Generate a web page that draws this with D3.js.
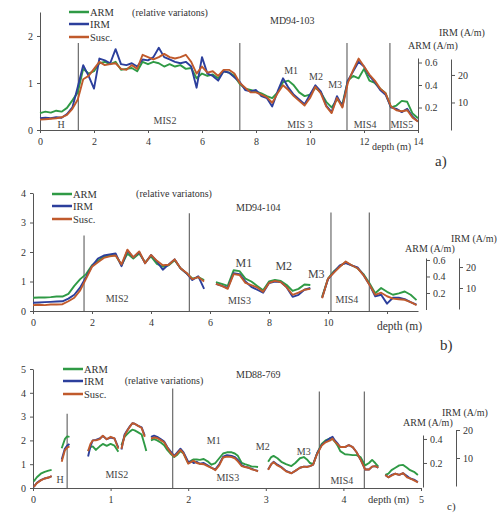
<!DOCTYPE html>
<html>
<head>
<meta charset="utf-8">
<script src="https://cdn.jsdelivr.net/npm/d3@7"></script>
<style>
body { margin: 0; background: #fff; }
text { font-family: "Liberation Serif", "Times New Roman", Times, serif; fill: #333; }
.axis path, .axis line { stroke: #555; }
.axis text { font-size: 10px; fill: #333; font-family: "Liberation Serif", "Times New Roman", Times, serif; }
</style>
</head>
<body>
<svg id="chart" width="498" height="513"></svg>
<script>
var seriesNames = ["ARM", "IRM", "Susc."];
var seriesColors = ["#2f9a45", "#2c3f9c", "#c05a2c"];

// core MD94-103
var depthA = [0,0.2,0.4,0.6,0.8,1,1.2,1.4,1.6,1.8,2,2.2,2.4,2.6,2.8,3,3.2,3.4,3.6,3.8,4,4.2,4.4,4.6,4.8,5,5.2,5.4,5.6,5.8,6,6.2,6.4,6.6,6.8,7,7.2,7.4,7.6,7.8,8,8.2,8.4,8.6,8.8,9,9.2,9.4,9.6,9.8,10,10.2,10.4,10.6,10.8,11,11.2,11.4,11.6,11.8,12,12.2,12.4,12.6,12.8,13,13.2,13.4,13.6,13.8,14];
var armA = [0.36,0.39,0.37,0.41,0.39,0.47,0.63,0.80,1.30,1.20,
  1.25,1.42,1.45,1.40,1.45,1.28,1.30,1.32,1.25,1.45,
  1.40,1.45,1.42,1.35,1.40,1.35,1.38,1.30,1.32,1.10,
  1.20,1.15,1.18,1.10,1.25,1.22,1.15,0.98,0.88,0.85,
  0.82,0.78,0.72,0.68,0.80,1.02,1.05,0.95,0.80,0.72,
  0.75,0.90,0.80,0.60,0.48,0.65,0.55,1.05,1.15,1.10,
  1.30,1.05,1.00,0.88,0.78,0.48,0.52,0.62,0.60,0.35,0.25];
var irmA = [0.25,0.26,0.25,0.27,0.26,0.34,0.48,0.92,1.38,1.15,
  0.88,1.52,1.48,1.42,1.72,1.40,1.38,1.42,1.35,1.50,
  1.48,1.55,1.75,1.55,1.50,1.45,1.42,1.45,1.35,0.90,
  1.55,1.20,1.15,1.05,1.25,1.22,1.12,1.02,0.85,0.82,
  0.85,0.72,0.68,0.50,0.82,1.10,0.90,0.75,0.65,0.55,
  0.75,0.95,0.82,0.52,0.38,0.72,0.50,1.05,1.25,1.45,
  1.35,1.15,1.02,0.85,0.75,0.48,0.45,0.38,0.45,0.28,0.18];
var suscA = [0.22,0.23,0.24,0.25,0.27,0.32,0.45,0.65,1.08,1.15,
  1.30,1.45,1.38,1.40,1.42,1.30,1.28,1.38,1.30,1.60,
  1.55,1.50,1.55,1.62,1.55,1.52,1.55,1.60,1.45,1.20,
  1.35,1.22,1.25,1.15,1.28,1.28,1.20,1.00,0.90,0.80,
  0.80,0.75,0.70,0.58,0.78,0.95,0.85,0.72,0.62,0.52,
  0.68,0.92,0.78,0.50,0.36,0.68,0.48,1.00,1.28,1.52,
  1.35,1.18,1.05,0.88,0.78,0.50,0.42,0.40,0.42,0.26,0.18];

// core MD94-104
var depthB = [0,0.2,0.4,0.6,0.8,1,1.2,1.4,1.6,1.8,2,2.2,2.4,2.6,2.8,3,3.2,3.4,3.6,3.8,4,4.2,4.4,4.6,4.8,5,5.2,5.4,5.6,5.8,6,6.2,6.4,6.6,6.8,7,7.2,7.4,7.6,7.8,8,8.2,8.4,8.6,8.8,9,9.2,9.4,9.6,9.8,10,10.2,10.4,10.6,10.8,11,11.2,11.4,11.6,11.8,12,12.2,12.4,12.6,12.8,13];
var armB = [0.45,0.46,0.46,0.47,0.49,0.49,0.58,0.85,1.08,1.25,
  1.55,1.70,1.85,1.88,1.90,1.55,1.95,1.78,1.95,1.65,
  1.85,1.60,1.50,1.55,1.72,1.45,1.28,1.10,1.15,1.05,
  null,0.98,0.92,0.85,1.38,1.35,1.10,1.00,0.85,0.70,
  1.00,1.05,1.02,0.88,0.68,0.75,0.90,0.88,null,0.48,
  1.10,1.35,1.52,1.65,1.55,1.45,1.25,0.95,0.60,0.78,
  0.65,0.55,0.60,0.66,0.55,0.37];
var irmB = [0.28,0.29,0.30,0.31,0.32,0.33,0.42,0.55,0.80,1.15,
  1.52,1.78,1.88,1.92,1.95,1.52,2.05,1.82,2.00,1.62,
  1.90,1.68,1.40,1.58,1.75,1.45,1.28,1.05,1.18,0.75,
  null,0.92,0.85,0.78,1.28,1.25,1.00,0.82,0.72,0.62,
  0.95,1.00,0.98,0.80,0.48,0.55,0.72,0.78,null,0.45,
  1.08,1.32,1.55,1.62,1.55,1.48,1.22,0.90,0.50,0.55,
  0.25,0.45,0.45,0.40,0.30,0.22];
var suscB = [0.20,0.21,0.20,0.22,0.22,0.23,0.33,0.45,0.70,1.10,
  1.50,1.65,1.80,1.85,1.88,1.58,2.08,1.82,2.02,1.62,
  1.90,1.70,1.55,1.57,1.75,1.45,1.30,1.08,1.15,1.00,
  null,0.92,0.85,0.75,1.25,1.22,0.95,0.88,0.80,0.65,
  0.95,1.02,0.98,0.80,0.55,0.62,0.72,0.75,null,0.43,
  1.10,1.30,1.50,1.68,1.55,1.45,1.22,0.90,0.55,0.62,
  0.50,0.42,0.40,0.38,0.30,0.20];

// core MD88-769
var depthC = [0.01,0.05,0.10,0.15,0.20,0.24,0.30,0.37,0.41,0.44,0.47,0.60,
  0.71,0.74,0.77,0.81,0.86,0.90,0.95,1.00,1.05,1.10,1.12,
  1.14,1.18,1.21,1.25,1.28,1.31,1.35,1.40,1.44,1.46,1.49,
  1.52,1.56,1.60,1.65,1.69,1.73,1.77,1.82,1.86,1.90,1.94,2.00,2.04,2.07,2.11,2.15,2.20,2.25,2.30,2.35,2.40,2.45,2.50,2.56,2.60,2.64,2.69,2.73,2.78,2.82,2.86,2.90,2.96,
  3.03,3.07,3.10,3.15,3.20,3.26,3.33,3.38,3.44,3.49,3.53,3.57,3.61,3.66,3.72,3.77,3.83,3.86,3.89,3.93,3.96,4.02,4.07,4.12,4.17,4.22,4.28,4.33,4.37,4.41,4.45,4.50,
  4.54,4.58,4.62,4.67,4.72,4.77,4.82,4.86,4.91,4.96];
var armC = [0.28,0.45,0.60,0.68,0.73,0.76,null,1.67,2.05,2.17,2.15,null,
  1.55,1.72,1.75,1.60,1.75,1.85,1.77,1.85,1.78,1.52,null,
  1.80,2.15,2.25,2.38,2.45,2.42,2.35,2.25,1.80,1.55,null,
  2.00,2.05,2.00,1.90,1.80,1.60,1.45,1.30,1.40,1.55,1.45,1.05,1.15,1.20,1.20,1.18,1.22,1.12,0.98,1.05,1.25,1.45,1.50,1.50,1.45,1.35,1.05,1.00,0.95,0.90,0.90,0.88,null,
  1.10,1.30,1.35,1.25,1.10,1.00,0.92,1.05,1.25,1.30,1.20,1.05,1.00,1.45,1.85,2.00,2.08,2.05,1.95,1.75,1.55,1.42,1.40,1.38,1.38,1.30,0.95,1.05,1.18,1.05,0.90,null,
  0.55,0.60,0.75,0.85,0.95,0.97,0.85,0.75,0.68,0.55];
var irmC = [0.05,0.22,0.33,0.40,0.44,0.50,null,1.20,1.65,1.78,1.85,null,
  1.32,1.75,2.00,2.02,2.08,2.18,2.05,2.12,2.08,1.70,null,
  1.62,2.25,2.40,2.60,2.72,2.70,2.62,2.55,2.20,null,null,
  2.15,2.20,2.15,2.05,1.95,1.72,1.55,1.35,1.50,1.65,1.50,1.10,1.12,1.05,1.10,1.02,1.05,0.95,0.85,0.78,1.00,1.32,1.38,1.35,1.30,1.18,0.95,0.90,0.85,0.80,0.75,0.72,null,
  0.78,1.00,1.10,0.98,0.88,0.72,0.62,0.72,0.85,0.90,0.90,0.92,0.98,1.45,1.80,1.95,2.10,2.15,2.00,1.85,1.72,1.72,1.80,1.72,1.50,1.20,0.78,0.78,0.90,0.92,0.85,null,
  0.55,0.45,0.55,0.60,0.55,0.62,0.50,0.40,0.35,0.25];
var suscC = [0.05,0.20,0.32,0.40,0.44,0.50,null,1.10,1.58,1.70,1.75,null,
  1.55,1.85,2.00,2.00,2.05,2.20,2.05,2.15,2.08,1.65,null,
  1.65,2.20,2.38,2.58,2.72,2.70,2.62,2.52,2.15,null,null,
  2.08,2.12,2.10,2.00,1.92,1.70,1.50,1.32,1.45,1.60,1.45,1.02,1.10,1.15,1.05,1.02,1.00,0.92,0.85,0.75,0.95,1.28,1.32,1.30,1.25,1.12,0.92,0.88,0.85,0.78,0.75,0.70,null,
  0.76,1.00,1.08,0.95,0.86,0.70,0.62,0.72,0.85,0.90,0.88,0.92,0.98,1.42,1.78,1.92,2.00,2.08,1.95,1.82,1.72,1.72,1.80,1.72,1.50,1.20,0.78,0.78,0.90,0.92,0.85,null,
  0.55,0.45,0.52,0.60,0.55,0.62,0.45,0.40,0.32,0.24];

// stage boundaries (depth) and their top (value units)
var boundsA = [1.42, 7.4, 11.37, 12.96], boundTopsA = [1.85, 1.85, 1.85, 1.85];
var boundsB = [1.73, 5.3, 10.1, 11.4], boundTopsB = [2.56, 3.31, 3.34, 3.34];
var boundsC = [0.44, 1.8, 3.69, 4.27], boundTopsC = [3.12, 4.18, 4.05, 4.05];

var stageTextA = ["H", "MIS2", "MIS 3", "MIS4", "MIS5", "M1", "M2", "M3"];
var stageDepthA = [0.78, 4.63, 9.63, 12.04, 13.4, 9.3, 10.22, 10.93];
var stageValA = [0.05, 0.12, 0.04, 0.04, 0.04, 1.19, 1.06, 0.89];
var stageTextB = ["MIS2", "MIS3", "MIS4", "M1", "M2", "M3"];
var stageDepthB = [2.85, 7.0, 10.64, 7.15, 8.5, 9.6];
var stageValB = [0.31, 0.24, 0.27, 1.5, 1.4, 1.13];
var stageTextC = ["H", "MIS2", "M1", "MIS3", "M2", "M3", "MIS4"];
var stageDepthC = [0.35, 1.08, 2.33, 2.51, 2.96, 3.49, 3.98];
var stageValC = [0.21, 0.42, 1.86, 0.3, 1.6, 1.39, 0.17];

var svg = d3.select("#chart");

function drawPanel(p) {
  var g = svg.append("g");
  var x = d3.scaleLinear().domain([0, p.xMax]).range([p.left, p.right]);
  var y = d3.scaleLinear().domain([0, p.yMax]).range([p.base, p.top]);

  g.append("g").attr("class", "axis")
    .attr("transform", "translate(0," + p.base + ")")
    .call(d3.axisBottom(x).tickValues(p.xTicks).tickSize(3).tickSizeOuter(0).tickPadding(5)
      .tickFormat(function(d, i) { return p.xLabels[i]; }))
    .attr("font-family", null);
  g.append("g").attr("class", "axis")
    .attr("transform", "translate(" + p.left + ",0)")
    .call(d3.axisLeft(y).tickValues(p.yTicks).tickSize(3).tickSizeOuter(0).tickPadding(4)
      .tickFormat(d3.format("d")))
    .attr("font-family", null);

  // stage boundaries
  g.selectAll(".bound").data(p.bounds).enter().append("line")
    .attr("x1", function(d) { return x(d); }).attr("x2", function(d) { return x(d); })
    .attr("y1", p.base).attr("y2", function(d, i) { return y(p.boundTops[i]); })
    .attr("stroke", "#6a6a6a").attr("stroke-width", 1.2);

  var series = [p.arm, p.irm, p.susc];
  series.forEach(function(vals, si) {
    var line = d3.line()
      .defined(function(d, i) { return vals[i] != null; })
      .x(function(d, i) { return x(p.depth[i]); })
      .y(function(d, i) { return y(vals[i]); });
    g.append("path").datum(vals)
      .attr("d", line)
      .attr("fill", "none")
      .attr("stroke", seriesColors[si])
      .attr("stroke-width", 1.9)
      .attr("stroke-linejoin", "round");
  });

  // stage labels
  p.stageText.forEach(function(t, i) {
    g.append("text")
      .attr("x", x(p.stageDepth[i])).attr("y", y(p.stageVal[i]))
      .attr("text-anchor", "middle")
      .style("font-size", (t.charAt(0) == "M" && t.length == 2 ? p.mSize : 10) + "px")
      .style("fill", "#444")
      .text(t);
  });

  // legend
  seriesNames.forEach(function(n, i) {
    var ly = p.legendY[i];
    g.append("line").attr("x1", p.legendX).attr("x2", p.legendX + 20)
      .attr("y1", ly).attr("y2", ly)
      .attr("stroke", seriesColors[i]).attr("stroke-width", 2.5);
    g.append("text").attr("x", p.legendX + 21).attr("y", ly + 3.5)
      .style("font-size", "10.5px").text(n);
  });

  g.append("text").attr("x", p.noteX).attr("y", p.noteY).attr("text-anchor", "middle")
    .style("font-size", "10px").text(p.note);
  g.append("text").attr("x", p.coreX).attr("y", p.coreY)
    .style("font-size", "10px").text(p.core);

  // magnetic scales on the right
  var armScale = d3.scaleLinear().domain([0, p.armMax]).range([p.armBase, p.armTop]);
  var irmScale = d3.scaleLinear().domain([0, p.irmMax]).range([p.irmBase, p.irmTop]);
  g.append("g").attr("class", "axis")
    .attr("transform", "translate(" + p.armX + ",0)")
    .call(d3.axisRight(armScale).tickValues(p.armTicks).tickSize(4).tickSizeOuter(0).tickPadding(3)
      .tickFormat(d3.format(".1f")))
    .attr("font-family", null);
  g.append("g").attr("class", "axis")
    .attr("transform", "translate(" + p.irmX + ",0)")
    .call(d3.axisRight(irmScale).tickValues(p.irmTicks).tickSize(4).tickSizeOuter(0).tickPadding(3)
      .tickFormat(d3.format("d")))
    .attr("font-family", null);
  g.append("text").attr("x", p.armLabX).attr("y", p.armLabY)
    .style("font-size", "10px").text("ARM (A/m)");
  g.append("text").attr("x", p.irmLabX).attr("y", p.irmLabY)
    .style("font-size", "10px").text("IRM (A/m)");
  g.append("text").attr("x", p.depthX).attr("y", p.depthY)
    .style("font-size", p.depthSize + "px").text("depth (m)");
  g.append("text").attr("x", p.tagX).attr("y", p.tagY)
    .style("font-size", p.tagSize + "px").text(p.tag);
}

drawPanel({
  depth: depthA, arm: armA, irm: irmA, susc: suscA,
  left: 40, right: 418, base: 130, top: 12, xMax: 14, yMax: 2.51,
  xTicks: [0, 2, 4, 6, 8, 10, 12, 14], xLabels: ["0", "2", "4", "6", "8", "10", "12", "14"],
  yTicks: [0, 1, 2],
  bounds: boundsA, boundTops: boundTopsA,
  stageText: stageTextA, stageDepth: stageDepthA, stageVal: stageValA, mSize: 10,
  legendX: 69, legendY: [12, 24, 37],
  note: "(relative variatons)", noteX: 170, noteY: 16,
  core: "MD94-103", coreX: 270, coreY: 24,
  armX: 418, armMax: 0.64, armBase: 130, armTop: 58, armTicks: [0.2, 0.4, 0.6],
  irmX: 451, irmMax: 25.8, irmBase: 130, irmTop: 59, irmTicks: [10, 20],
  armLabX: 408, armLabY: 48.5, irmLabX: 439, irmLabY: 35.5,
  depthX: 372, depthY: 149.5, depthSize: 10,
  tag: "a)", tagX: 435, tagY: 166, tagSize: 15
});

drawPanel({
  depth: depthB, arm: armB, irm: irmB, susc: suscB,
  left: 33, right: 418, base: 311, top: 193, xMax: 13.05, yMax: 4,
  xTicks: [0, 2, 4, 6, 8, 10, 12], xLabels: ["0", "2", "4", "6", "8", "10", ""],
  yTicks: [0, 1, 2, 3, 4],
  bounds: boundsB, boundTops: boundTopsB,
  stageText: stageTextB, stageDepth: stageDepthB, stageVal: stageValB, mSize: 12,
  legendX: 52, legendY: [194, 206, 219],
  note: "(relative variatons)", noteX: 174, noteY: 196.5,
  core: "MD94-104", coreX: 236, coreY: 210.5,
  armX: 426, armMax: 0.624, armBase: 309.5, armTop: 258, armTicks: [0.2, 0.4, 0.6],
  irmX: 459, irmMax: 24.3, irmBase: 309, irmTop: 258, irmTicks: [10, 20],
  armLabX: 405, armLabY: 251.5, irmLabX: 451, irmLabY: 241.5,
  depthX: 377, depthY: 330, depthSize: 11.5,
  tag: "b)", tagX: 440, tagY: 350, tagSize: 15
});

drawPanel({
  depth: depthC, arm: armC, irm: irmC, susc: suscC,
  left: 33, right: 421, base: 488, top: 369, xMax: 5, yMax: 5,
  xTicks: [0, 1, 2, 3, 4, 5], xLabels: ["0", "1", "2", "3", "4", "5"],
  yTicks: [0, 1, 2, 3, 4, 5],
  bounds: boundsC, boundTops: boundTopsC,
  stageText: stageTextC, stageDepth: stageDepthC, stageVal: stageValC, mSize: 10,
  legendX: 63, legendY: [369, 381, 394],
  note: "(relative variations)", noteX: 164, noteY: 383.5,
  core: "MD88-769", coreX: 236, coreY: 377.5,
  armX: 423, armMax: 0.433, armBase: 487, armTop: 435, armTicks: [0.2, 0.4],
  irmX: 456, irmMax: 20, irmBase: 486, irmTop: 430, irmTicks: [10, 20],
  armLabX: 403, armLabY: 425.5, irmLabX: 442, irmLabY: 415.5,
  depthX: 368, depthY: 502.5, depthSize: 10.5,
  tag: "c)", tagX: 447, tagY: 510, tagSize: 11
});
</script>
</body>
</html>
